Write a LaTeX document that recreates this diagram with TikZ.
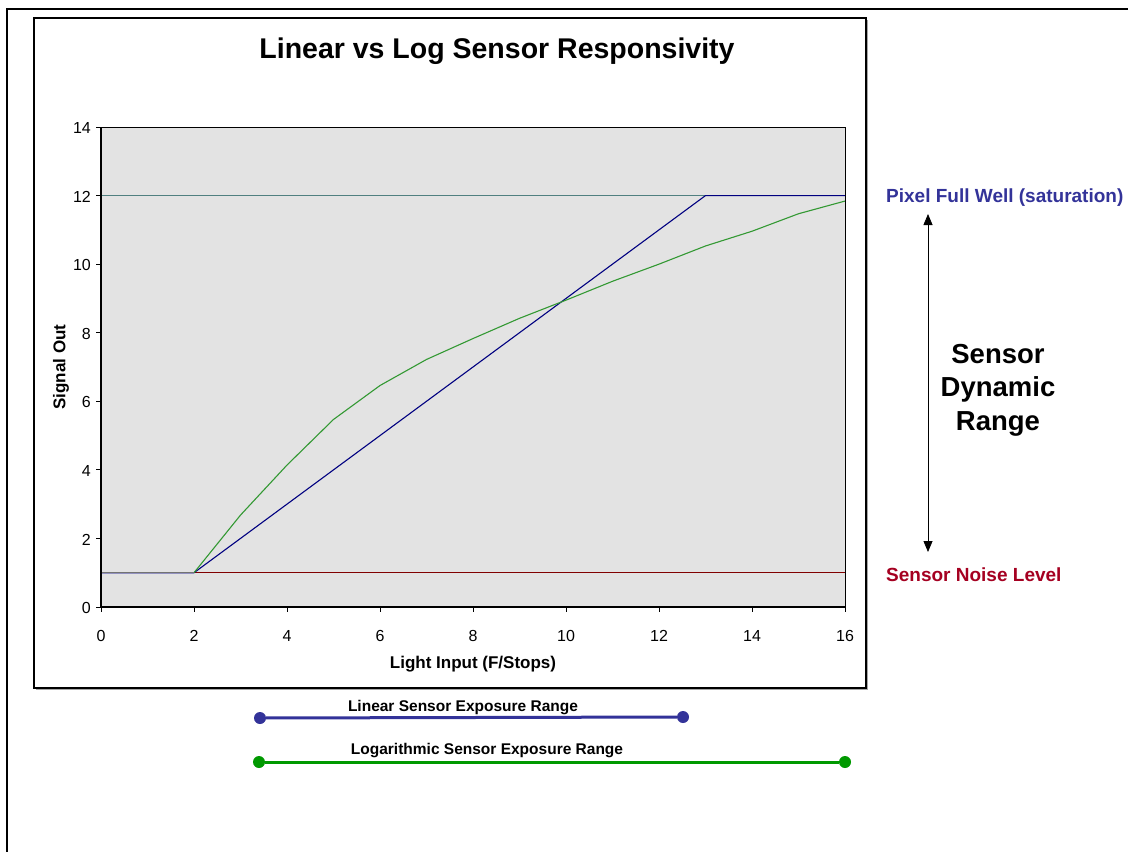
\documentclass[tikz,border=0pt]{standalone}
\usepackage{fontspec}
\setmainfont{Liberation Sans}
\usetikzlibrary{arrows.meta}
\definecolor{plotbg}{RGB}{227,227,227}
\definecolor{linblue}{RGB}{0,0,128}
\definecolor{loggreen}{RGB}{51,153,51}
\definecolor{satteal}{RGB}{80,128,128}
\definecolor{noisered}{RGB}{128,0,0}
\definecolor{labelblue}{RGB}{51,51,153}
\definecolor{labelred}{RGB}{165,0,33}
\definecolor{barblue}{RGB}{51,51,153}
\definecolor{bargreen}{RGB}{0,153,0}
\tikzset{
  ticklabel/.style={font=\fontsize{16}{18}\selectfont, inner sep=0pt},
  axislabel/.style={font=\fontsize{17}{20}\selectfont\bfseries, inner sep=0pt},
  sidelabel/.style={font=\fontsize{19}{22}\selectfont\bfseries, inner sep=0pt, anchor=west},
  rangelabel/.style={font=\fontsize{15.5}{18}\selectfont\bfseries, inner sep=0pt},
  enddot/.style={circle, inner sep=0pt, minimum size=12pt},
  series/.style={line width=1.1pt, line join=round},
}
\begin{document}
\begin{tikzpicture}[x=1pt, y=-1pt]
\useasboundingbox (0,0) rectangle (1128,852);
\fill[white] (0,0) rectangle (1128,852);

% outer page frame
\draw[line width=2.6pt] (7,852) -- (7,9) -- (1128,9);

% chart frame with a soft shadow
\fill[black!35] (36,20) rectangle (868,690);
\draw[line width=1.2pt, fill=white] (34,18) rectangle (866,688);

% title
\node[font=\fontsize{28.5}{32}\selectfont\bfseries, inner sep=0pt] (title) at (497,51) {Linear vs Log Sensor Responsivity};

% plot area
\begin{scope}[shift={(101pt,-607pt)}, x=46.5pt, y=34.2857pt]
  \fill[plotbg] (0,0) rectangle (16,14);
  % reference levels
  \draw[satteal, series] (0,12) -- (16,12);
  \draw[noisered, series] (0,1) -- (16,1);
  % linear response
  \draw[linblue, series] (0,1) -- (2,1) -- (13,12) -- (16,12);
  % logarithmic response
  \draw[loggreen, series] (2,1) -- (3,2.68) -- (4,4.14) -- (5,5.47) -- (6,6.46)
     -- (7,7.22) -- (8,7.83) -- (9,8.42) -- (10,8.95) -- (11,9.5) -- (12,10.0)
     -- (13,10.53) -- (14,10.96) -- (15,11.47) -- (16,11.84);
  % overlapping series below the threshold
  \draw[black!55, series] (0,1) -- (2,1);
  % frame and axes
  \draw[line width=0.9pt] (0,0) rectangle (16,14);
  \draw[line width=1.4pt] (0,14) -- (0,0) -- (16,0);
  \foreach \v in {0,2,...,14} {
    \draw[line width=0.9pt] (0,\v) -- ++(-5pt,0);
    \node[ticklabel, anchor=east] (yl\v) at ([xshift=-10pt,yshift=-1pt]0,\v) {\v};
  }
  \foreach \u in {0,2,...,16} {
    \draw[line width=0.9pt] (\u,0) -- ++(0,-5pt);
    \node[ticklabel] (xl\u) at ([yshift=-29pt]\u,0) {\u};
  }
\end{scope}

% axis titles
\node[axislabel] (xtitle) at (473,664) {Light Input (F/Stops)};
\node[axislabel, rotate=90] (ytitle) at (61,367) {Signal Out};

% levels and dynamic range
\node[sidelabel, text=labelblue] (fullwell) at (886,198) {Pixel Full Well (saturation)};
\node[sidelabel, text=labelred] (noise) at (886,575) {Sensor Noise Level};
\coordinate (rangetop) at (928,214);
\coordinate (rangebot) at (928,552);
\draw[line width=0.8pt, {Triangle[width=9pt,length=11pt]}-{Triangle[width=9pt,length=11pt]}] (rangetop) -- (rangebot);
\node[font=\fontsize{27.5}{33.5}\selectfont\bfseries, align=center, inner sep=0pt] (dynrange) at (998,390) {Sensor\\Dynamic\\Range};

% exposure ranges
\node[enddot, fill=barblue] (linA) at (260,718) {};
\node[enddot, fill=barblue] (linB) at (683,717) {};
\draw[barblue, line width=3pt] (linA) -- (linB);
\node[rangelabel] (linlabel) at (463,708) {Linear Sensor Exposure Range};

\node[enddot, fill=bargreen] (logA) at (259,762) {};
\node[enddot, fill=bargreen] (logB) at (845,762) {};
\draw[bargreen, line width=3pt] (logA) -- (logB);
\node[rangelabel] (loglabel) at (487,751) {Logarithmic Sensor Exposure Range};
\end{tikzpicture}
\end{document}
